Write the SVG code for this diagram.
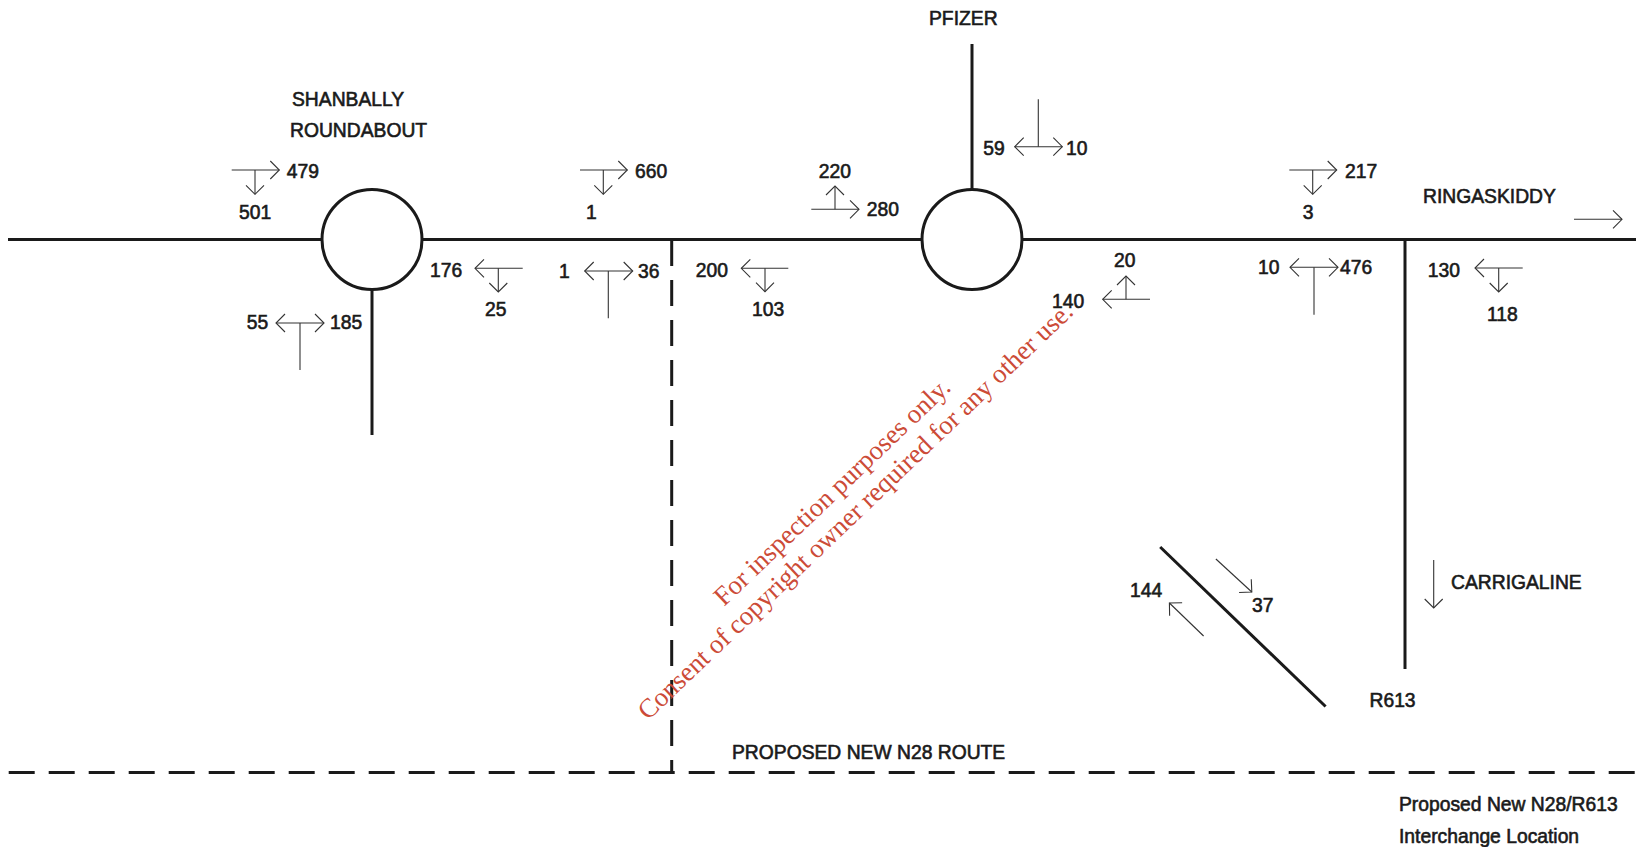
<svg xmlns="http://www.w3.org/2000/svg" width="1636" height="847" viewBox="0 0 1636 847">
<style>
.road{fill:none;stroke:#1a1a1a;stroke-width:3}
.dash{fill:none;stroke:#1a1a1a;stroke-width:3;stroke-dasharray:26 14}
.ring{fill:#fff;stroke:#1a1a1a;stroke-width:3}
.a{fill:none;stroke:#333;stroke-width:1.1}
.h{marker-end:url(#head)}
.d{marker-start:url(#headr);marker-end:url(#head)}
text{font-family:"Liberation Sans",Arial,sans-serif;font-size:19.3px;fill:#1a1a1a;stroke:#1a1a1a;stroke-width:.6}
.w{font-family:"Liberation Serif","Times New Roman",serif;font-size:26.8px;fill:#cc4b37;stroke:none}
</style>
<defs>
<marker id="head" markerUnits="userSpaceOnUse" markerWidth="22" markerHeight="22" refX="11" refY="11" orient="auto" overflow="visible"><path d="M2,2L11,11L2,20" fill="none" stroke="#333" stroke-width="1.1"/></marker>
<marker id="headr" markerUnits="userSpaceOnUse" markerWidth="22" markerHeight="22" refX="11" refY="11" orient="auto" overflow="visible"><path d="M20,2L11,11L20,20" fill="none" stroke="#333" stroke-width="1.1"/></marker>
</defs>
<rect width="1636" height="847" fill="#fff"/>
<g id="connectors">
<path class="road" d="M8,239.5H1636"/>
<path class="road" d="M372,239V435"/>
<path class="road" d="M972,44V239"/>
<path class="road" d="M1405,239V669"/>
<path class="road" d="M1160.2,547L1325.6,706.5"/>
<path class="dash" d="M671.7,240V772"/>
<path class="dash" d="M8.7,772.5H1636"/>
<g id="flow-arrows">
<path class="a h" d="M231.7,170H279.3"/><path class="a h" d="M255,170V194.3"/>
<path class="a h" d="M580,170H627.3"/><path class="a h" d="M603.3,170V194.3"/>
<path class="a h" d="M522.7,268.3H475"/><path class="a h" d="M498.3,268.3V292"/>
<path class="a d" d="M584.7,271H632.7"/><path class="a" d="M608.3,271V318.3"/>
<path class="a d" d="M276,323H324"/><path class="a" d="M300,323V370"/>
<path class="a h" d="M811.3,209.3H859"/><path class="a h" d="M835,209.3V186"/>
<path class="a d" d="M1014.7,146.7H1062.3"/><path class="a" d="M1038.3,146.7V99.3"/>
<path class="a h" d="M788.3,268.3H741.3"/><path class="a h" d="M765,268.3V291.7"/>
<path class="a h" d="M1150,299.3H1102.7"/><path class="a h" d="M1126,299.3V276"/>
<path class="a h" d="M1289.3,170H1336.7"/><path class="a h" d="M1312.7,170V194.3"/>
<path class="a d" d="M1290,267.3H1338"/><path class="a" d="M1314,267.3V314.7"/>
<path class="a h" d="M1522.7,268H1475"/><path class="a h" d="M1498.7,268V292"/>
<path class="a h" d="M1574,219.3H1622"/>
<path class="a h" d="M1215.9,559L1251.8,592"/>
<path class="a h" d="M1203.6,636L1169.4,603"/>
<path class="a h" d="M1433.7,560V608"/>
</g>
</g>
<g id="shanbally"><circle class="ring" cx="372" cy="239.5" r="50"/></g>
<g id="pfizer"><circle class="ring" cx="972" cy="239.5" r="50"/></g>
<g id="labels">
<text x="292" y="106">SHANBALLY</text>
<text x="290" y="136.7">ROUNDABOUT</text>
<text x="929" y="25">PFIZER</text>
<text x="1423" y="202.7">RINGASKIDDY</text>
<text x="1451" y="589.3">CARRIGALINE</text>
<text x="1369.5" y="706.7">R613</text>
<text x="732" y="758.5">PROPOSED NEW N28 ROUTE</text>
<text x="1399" y="811">Proposed New N28/R613</text>
<text x="1399" y="843">Interchange Location</text>
<text x="286.7" y="178">479</text>
<text x="239" y="219">501</text>
<text x="635" y="178">660</text>
<text x="586" y="219">1</text>
<text x="430" y="276.7">176</text>
<text x="485" y="316">25</text>
<text x="559" y="278">1</text>
<text x="638" y="278">36</text>
<text x="246.7" y="329.3">55</text>
<text x="330" y="329.3">185</text>
<text x="983.3" y="155">59</text>
<text x="1066" y="155">10</text>
<text x="818.7" y="177.7">220</text>
<text x="866.7" y="216">280</text>
<text x="695.7" y="276.7">200</text>
<text x="752" y="316">103</text>
<text x="1114" y="266.7">20</text>
<text x="1052" y="308.3">140</text>
<text x="1345" y="178">217</text>
<text x="1302.7" y="219">3</text>
<text x="1258" y="274">10</text>
<text x="1340" y="274">476</text>
<text x="1427.7" y="277.3">130</text>
<text x="1487" y="320.7">118</text>
<text x="1130" y="597.3">144</text>
<text x="1252" y="612.3">37</text>
</g>
<g id="watermark">
<text class="w" transform="translate(724,607) rotate(-43.7)">For inspection purposes only.</text>
<text class="w" transform="translate(648,721) rotate(-43.7)">Consent of copyright owner required for any other use.</text>
</g>
</svg>
